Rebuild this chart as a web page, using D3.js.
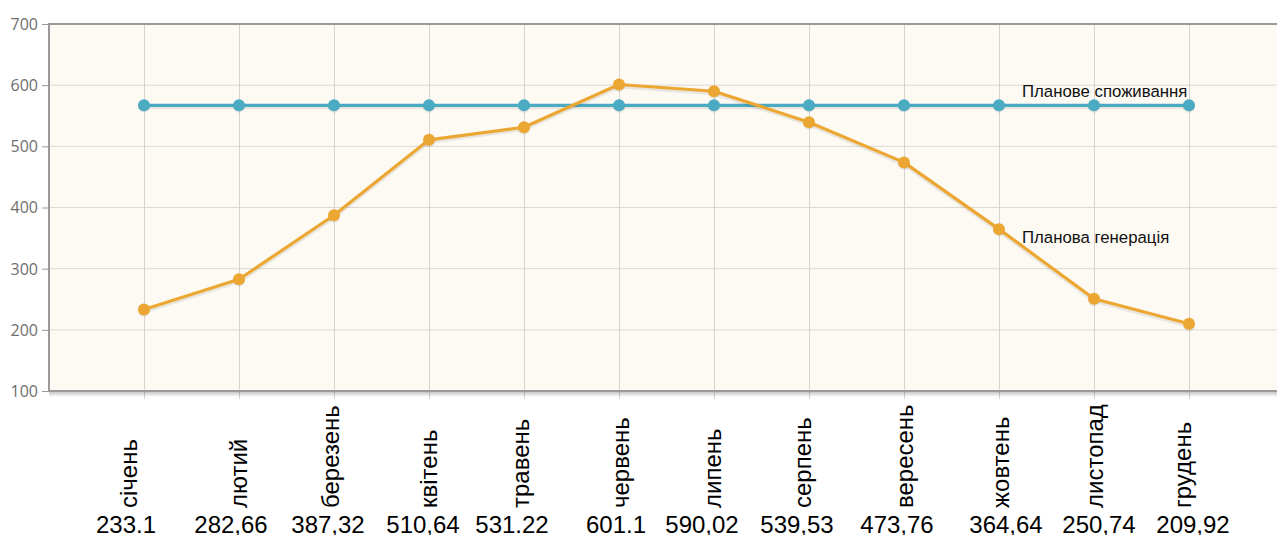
<!DOCTYPE html>
<html>
<head>
<meta charset="utf-8">
<script src="https://cdn.jsdelivr.net/npm/d3@7/dist/d3.min.js"></script>
<style>
  html, body { margin: 0; padding: 0; background: #ffffff; }
  svg { display: block; }
</style>
</head>
<body>
<svg id="chart" width="1277" height="535"></svg>
<script>
// Months of the year
const months = ["січень", "лютий", "березень", "квітень", "травень", "червень",
                "липень", "серпень", "вересень", "жовтень", "листопад", "грудень"];
// Planned generation per month, as written under the axis
const generationLabels = ["233.1", "282,66", "387,32", "510,64", "531.22", "601.1",
                          "590,02", "539,53", "473,76", "364,64", "250,74", "209,92"];
const generation = generationLabels.map(s => +s.replace(",", "."));
// Planned consumption per month
const consumption = [567, 567, 567, 567, 567, 567, 567, 567, 567, 567, 567, 567];
// Y axis ticks
const yTicks = [100, 200, 300, 400, 500, 600, 700];
const seriesNames = ["Планове споживання", "Планова генерація"];

// Hand-tuned horizontal nudges of the text rows under the axis (px)
const monthNudge = [-7, 8, 5, 8, 5, 10, 7, 2, 9, 10, 9, 2];
const valueNudge = [-18, -8, -6, -6, -12, -3, -12, -12, -7, 7, 5, 4];

const plot = { left: 49, top: 24, right: 1277, bottom: 391 };

const svg = d3.select("#chart");

const x = d3.scaleLinear().domain([0, months.length + 1]).range([plot.left, plot.left + 95 * (months.length + 1)]);
const y = d3.scaleLinear().domain([100, 700]).range([plot.bottom, plot.top]);
const px = i => x(i + 1);

const defs = svg.append("defs");
const grad = defs.append("linearGradient").attr("id", "axShadow").attr("x1", 0).attr("y1", 0).attr("x2", 0).attr("y2", 1);
grad.append("stop").attr("offset", "0%").attr("stop-color", "#000").attr("stop-opacity", 0.22);
grad.append("stop").attr("offset", "100%").attr("stop-color", "#000").attr("stop-opacity", 0);

// Plot background
svg.append("rect")
  .attr("x", plot.left).attr("y", plot.top)
  .attr("width", plot.right - plot.left).attr("height", plot.bottom - plot.top)
  .attr("fill", "#fdfaf3");

// Horizontal grid
svg.append("g").selectAll("line").data(yTicks).join("line")
  .attr("x1", plot.left).attr("x2", plot.right)
  .attr("y1", d => y(d)).attr("y2", d => y(d))
  .attr("stroke", "#dcdad4").attr("stroke-width", 1);

// Vertical grid (extends slightly below the axis as category ticks)
svg.append("g").selectAll("line").data(months).join("line")
  .attr("x1", (d, i) => px(i) + 0.5).attr("x2", (d, i) => px(i) + 0.5)
  .attr("y1", plot.top).attr("y2", plot.bottom + 8)
  .attr("stroke", "#d6d4cf").attr("stroke-width", 1);

// Shadow under bottom axis
svg.append("rect")
  .attr("x", plot.left).attr("y", plot.bottom + 1)
  .attr("width", plot.right - plot.left).attr("height", 5)
  .attr("fill", "url(#axShadow)");

// Frame lines
svg.append("line").attr("x1", plot.left).attr("x2", plot.right)
  .attr("y1", plot.top).attr("y2", plot.top)
  .attr("stroke", "#9a9a9a").attr("stroke-width", 2);
svg.append("line").attr("x1", plot.left).attr("x2", plot.right)
  .attr("y1", plot.bottom).attr("y2", plot.bottom)
  .attr("stroke", "#9a9a9a").attr("stroke-width", 2);
svg.append("line").attr("x1", plot.left).attr("x2", plot.left)
  .attr("y1", plot.top - 1).attr("y2", plot.bottom + 1)
  .attr("stroke", "#9a9a9a").attr("stroke-width", 2);

// Y axis ticks and labels
const yAxis = d3.axisLeft(y).tickValues(yTicks).tickSize(6).tickPadding(4);
const yg = svg.append("g").attr("transform", `translate(${plot.left - 1},0)`).call(yAxis);
yg.select(".domain").remove();
yg.selectAll(".tick line").attr("stroke", "#9a9a9a");
yg.selectAll(".tick text")
  .attr("fill", "#6e6e6e")
  .style("font-family", "'Open Sans', sans-serif")
  .style("font-size", "16px")
  .attr("dy", "0.34em");

// Lines with a soft drop shadow
const line = d3.line().x((d, i) => px(i)).y(d => y(d));

function drawSeries(values, color) {
  const g = svg.append("g");
  g.append("path").datum(values).attr("d", line)
    .attr("fill", "none").attr("stroke", "#000").attr("stroke-opacity", 0.08)
    .attr("stroke-width", 4).attr("transform", "translate(0,2)")
    .attr("stroke-linejoin", "round");
  g.append("path").datum(values).attr("d", line)
    .attr("fill", "none").attr("stroke", color)
    .attr("stroke-width", 3.2).attr("stroke-linejoin", "round");
  g.selectAll("circle.s").data(values).join("circle")
    .attr("cx", (d, i) => px(i)).attr("cy", d => y(d) + 1.5).attr("r", 6)
    .attr("fill", "#000").attr("fill-opacity", 0.08);
  g.selectAll("circle.m").data(values).join("circle")
    .attr("cx", (d, i) => px(i)).attr("cy", d => y(d)).attr("r", 6)
    .attr("fill", color);
}
drawSeries(consumption, "#4aabc3");
drawSeries(generation, "#eca733");

// Series labels
const labelFont = "'Liberation Sans', Arial, sans-serif";
svg.append("text").attr("x", px(9) + 23).attr("y", y(consumption[10]) - 8)
  .text(seriesNames[0])
  .style("font-family", labelFont).style("font-size", "16.8px").attr("fill", "#111");
svg.append("text").attr("x", px(9) + 23).attr("y", y(generation[9]) + 14)
  .text(seriesNames[1])
  .style("font-family", labelFont).style("font-size", "16.8px").attr("fill", "#111");

// Month names (rotated) and values under the axis
const cat = svg.append("g");
cat.selectAll("text.m").data(months).join("text")
  .attr("class", "m")
  .attr("transform", (d, i) => `translate(${px(i) + monthNudge[i]},508) rotate(-90)`)
  .text(d => d)
  .style("font-family", labelFont).style("font-size", "24px").attr("fill", "#000");
cat.selectAll("text.v").data(generationLabels).join("text")
  .attr("class", "v")
  .attr("x", (d, i) => px(i) + valueNudge[i]).attr("y", 533)
  .attr("text-anchor", "middle")
  .text(d => d)
  .style("font-family", labelFont).style("font-size", "24px").attr("fill", "#000");
</script>
</body>
</html>
